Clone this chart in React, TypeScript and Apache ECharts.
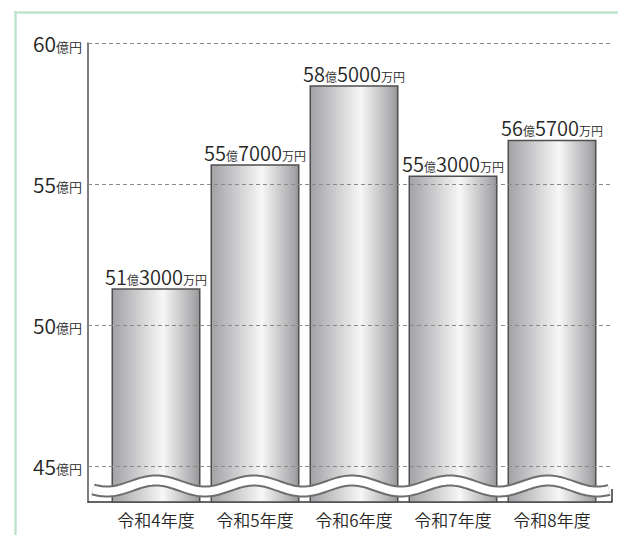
import React, { useEffect, useRef } from "react";
import * as echarts from "echarts";

const categories = ["令和4年度", "令和5年度", "令和6年度", "令和7年度", "令和8年度"];
const values = [51.3, 55.7, 58.5, 55.3, 56.57];
const yTicks = [45, 50, 55, 60];
const yMin = 43.72;
const yMax = 60;

const FONT = "'Noto Sans CJK JP', 'Noto Sans', sans-serif";
const W = 350;

function wavePoints(): number[][] {
  const pts: number[][] = [];
  for (let x = 93; x <= 609; x += 1.5) {
    pts.push([x, 486 - 5.5 * Math.cos((2 * Math.PI * (x - 156)) / 98)]);
  }
  return pts;
}

export default function App() {
  const ref = useRef<HTMLDivElement>(null);
  useEffect(() => {
    if (!ref.current) return;
    const chart = echarts.init(ref.current, null, { renderer: "svg" });
    const pts = wavePoints();
    const barGradient = new echarts.graphic.LinearGradient(0, 0, 1, 0, [
      { offset: 0, color: "#a2a2a6" },
      { offset: 0.58, color: "#f7f7f7" },
      { offset: 0.95, color: "#a6a6a9" },
      { offset: 1, color: "#929295" },
    ]);
    const txt = "#262626";
    chart.setOption({
      animation: false,
      textStyle: { fontFamily: FONT },
      grid: [
        { left: 88, right: 6, top: 43, bottom: 33 },
        { left: 106.5, right: 16.5, top: 43, bottom: 33 },
      ],
      xAxis: [
        {
          type: "value",
          gridIndex: 0,
          min: 0,
          max: 1,
          axisLine: { show: true, onZero: false, lineStyle: { color: "#333", width: 1.5 } },
          axisTick: { show: false },
          axisLabel: { show: false },
          splitLine: { show: false },
        },
        {
          type: "category",
          gridIndex: 1,
          data: categories,
          axisLine: { show: false },
          axisTick: { show: false },
          axisLabel: { interval: 0, margin: 9, fontSize: 17, color: txt, fontFamily: FONT, fontWeight: W },
        },
      ],
      yAxis: [
        {
          type: "value",
          gridIndex: 0,
          min: yMin,
          max: yMax,
          axisLine: { show: true, lineStyle: { color: "#555", width: 1.5 } },
          axisTick: { show: false },
          axisLabel: { show: false },
          splitLine: { show: false },
        },
        {
          type: "value",
          gridIndex: 1,
          min: yMin,
          max: yMax,
          show: false,
        },
      ],
      series: [
        {
          type: "line",
          xAxisIndex: 0,
          yAxisIndex: 0,
          data: [[0.5, 50]],
          symbol: "none",
          lineStyle: { opacity: 0 },
          silent: true,
          z: 1,
          markLine: {
            silent: true,
            symbol: ["none", "none"],
            lineStyle: { color: "#8a8a8a", type: [4, 3], width: 1 },
            label: {
              show: true,
              position: "start",
              distance: 6,
              formatter: (p: any) => `{n|${p.value}}{s|億円}`,
              rich: {
                n: { fontSize: 21, color: txt, fontFamily: FONT, fontWeight: W, verticalAlign: "bottom" },
                s: { fontSize: 13, color: txt, fontFamily: FONT, fontWeight: W, verticalAlign: "bottom", padding: [0, 0, 1, 0] },
              },
            },
            data: yTicks.map((v) => ({ yAxis: v })),
          },
        },
        {
          type: "bar",
          xAxisIndex: 1,
          yAxisIndex: 1,
          data: values,
          barWidth: 89,
          z: 3,
          itemStyle: { color: barGradient, borderColor: "#4f4f4f", borderWidth: 1.5 },
          label: {
            show: true,
            position: "top",
            distance: 2,
            formatter: (p: any) => {
              const v = p.value as number;
              const oku = Math.floor(v);
              const man = Math.round((v - oku) * 10000);
              return `{n|${oku}}{s|億}{n|${man}}{s|万円}`;
            },
            rich: {
              n: { fontSize: 20, color: txt, fontFamily: FONT, fontWeight: W, verticalAlign: "bottom" },
              s: { fontSize: 12, color: txt, fontFamily: FONT, fontWeight: W, verticalAlign: "bottom", padding: [0, 0, 1, 0] },
            },
          },
        },
      ],
      graphic: [
        {
          type: "line",
          z: 100,
          shape: { x1: 15.5, y1: 11, x2: 15.5, y2: 535 },
          style: { stroke: "#bfe4cd", lineWidth: 2.5 },
        },
        {
          type: "line",
          z: 100,
          shape: { x1: 14.5, y1: 12.5, x2: 618, y2: 12.5 },
          style: { stroke: "#bfe4cd", lineWidth: 2.5 },
        },
        {
          type: "line",
          z: 100,
          shape: { x1: 612, y1: 489, x2: 612, y2: 502 },
          style: { stroke: "#333", lineWidth: 1.5 },
        },
        {
          type: "polyline",
          z: 100,
          shape: { points: pts },
          style: { stroke: "#6e6e6e", lineWidth: 12, fill: null },
        },
        {
          type: "polyline",
          z: 101,
          shape: { points: pts },
          style: { stroke: "#ffffff", lineWidth: 8, fill: null },
        },
      ],
    });
    return () => chart.dispose();
  }, []);
  return (
    <div
      ref={ref}
      style={{ position: "fixed", left: 0, top: 0, width: 618, height: 535, background: "#fff" }}
    />
  );
}
